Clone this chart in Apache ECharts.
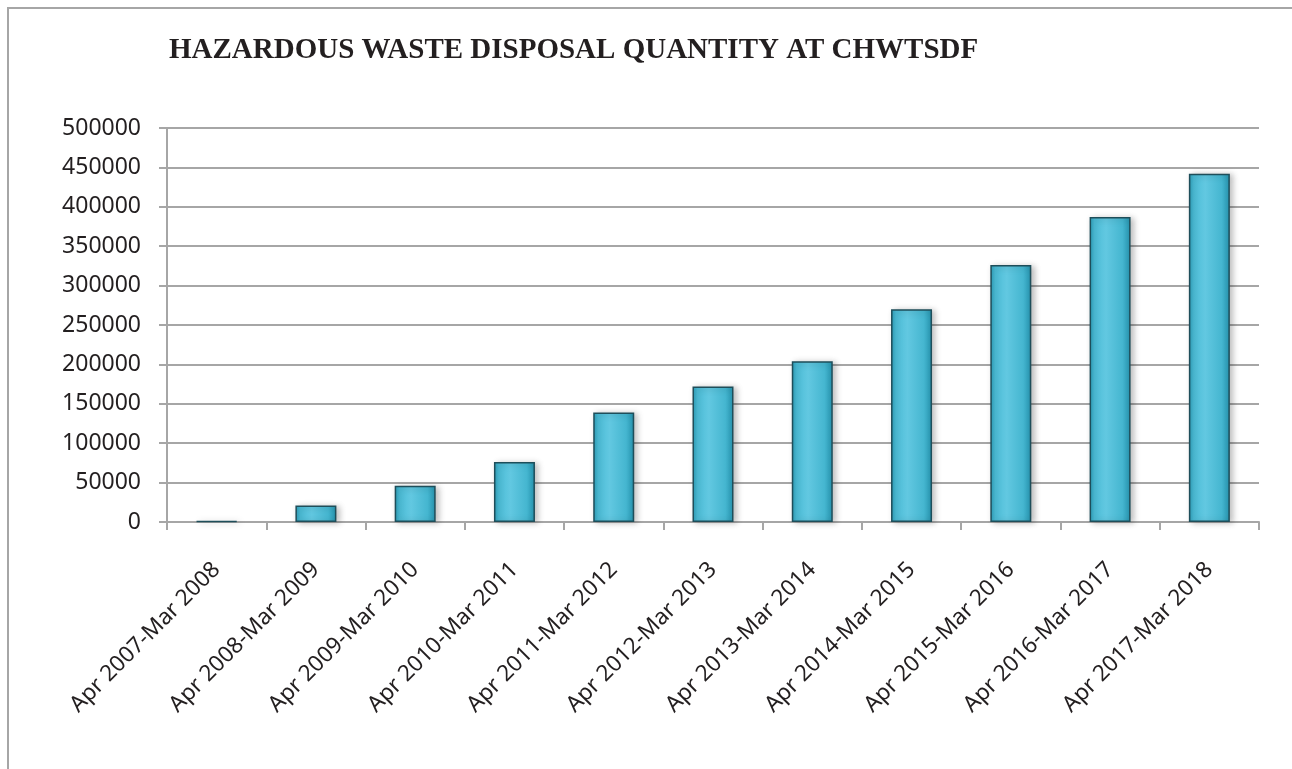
<!DOCTYPE html>
<html>
<head>
<meta charset="utf-8">
<script src="https://cdn.jsdelivr.net/npm/echarts@6/dist/echarts.min.js"></script>
<style>
html,body{margin:0;padding:0;background:#fff;}
#chart{width:1292px;height:769px;}
</style>
</head>
<body>
<div id="chart"></div>
<script>
const titleText = 'HAZARDOUS WASTE DISPOSAL QUANTITY AT CHWTSDF';
const categories = [
  'Apr 2007-Mar 2008','Apr 2008-Mar 2009','Apr 2009-Mar 2010','Apr 2010-Mar 2011',
  'Apr 2011-Mar 2012','Apr 2012-Mar 2013','Apr 2013-Mar 2014','Apr 2014-Mar 2015',
  'Apr 2015-Mar 2016','Apr 2016-Mar 2017','Apr 2017-Mar 2018'
];
const quantities = [1000, 21000, 46000, 76000, 139000, 172000, 204000, 270000, 326000, 387000, 442000];
const yMin = 0, yMax = 500000, yStep = 50000;

const chart = echarts.init(document.getElementById('chart'));
chart.setOption({
  animation: false,
  backgroundColor: '#ffffff',
  graphic: [{
    type: 'rect',
    shape: {x: 8, y: 8, width: 1320, height: 800},
    style: {fill: 'none', stroke: '#a6a6a6', lineWidth: 2},
    z: -1
  }],
  title: {
    text: titleText,
    left: 164, top: 31,
    textStyle: {fontFamily: 'Liberation Serif', fontWeight: 'bold', fontSize: 29, color: '#231f20'}
  },
  grid: {left: 167, right: 33, top: 128, bottom: 247, containLabel: false},
  xAxis: {
    type: 'category',
    data: categories,
    boundaryGap: true,
    axisLine: {lineStyle: {color: '#a6a6a6', width: 2}},
    axisTick: {show: true, alignWithLabel: false, length: 8, lineStyle: {color: '#a6a6a6', width: 2}},
    axisLabel: {rotate: 45, interval: 0, margin: 44, fontFamily: 'Noto Sans', fontSize: 22.5, color: '#231f20'}
  },
  yAxis: {
    type: 'value',
    min: yMin, max: yMax, interval: yStep,
    axisLine: {show: true, lineStyle: {color: '#a6a6a6', width: 2}},
    axisTick: {show: true, length: 8, lineStyle: {color: '#a6a6a6', width: 2}},
    splitLine: {lineStyle: {color: '#a6a6a6', width: 2}},
    axisLabel: {margin: 26, fontFamily: 'Noto Sans', fontSize: 23, color: '#231f20',
      formatter: function (v) { return String(v); }}
  },
  series: [{
    type: 'bar',
    data: quantities,
    barWidth: 41,
    itemStyle: {
      color: new echarts.graphic.LinearGradient(0, 0, 1, 0, [
        {offset: 0, color: '#2a9cb6'},
        {offset: 0.12, color: '#4cbdd7'},
        {offset: 0.4, color: '#62c8e1'},
        {offset: 0.8, color: '#45b6d0'},
        {offset: 1, color: '#2592ad'}
      ]),
      borderColor: '#1e4e5a',
      borderWidth: 1.5,
      shadowColor: 'rgba(0,0,0,0.25)',
      shadowBlur: 6,
      shadowOffsetX: 3,
      shadowOffsetY: 1
    }
  }]
});
</script>
</body>
</html>
